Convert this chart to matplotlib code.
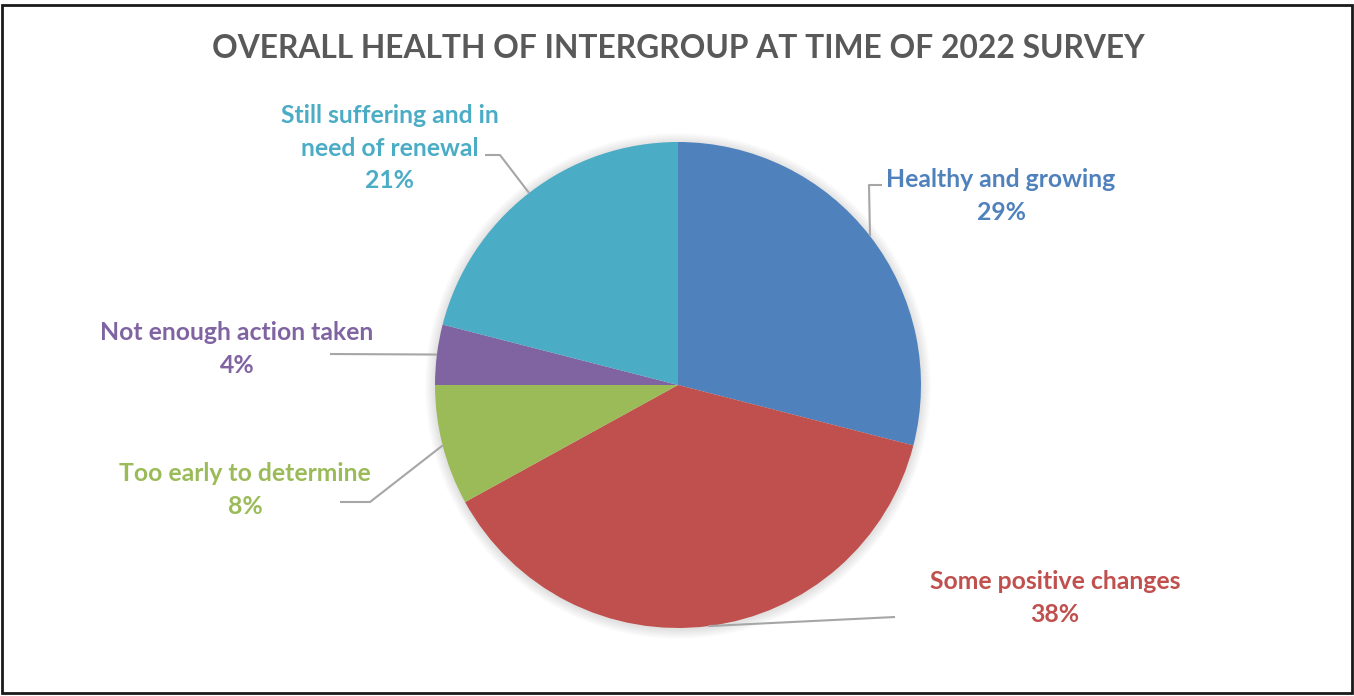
import matplotlib.pyplot as plt
from matplotlib.patches import Circle, Rectangle
import numpy as np

W, H = 1354, 696

categories = ['Healthy and growing', 'Some positive changes', 'Too early to determine',
              'Not enough action taken', 'Still suffering and in\nneed of renewal']
values = [29, 38, 8, 4, 21]
COLORS = ['#4F81BD', '#C0504D', '#9BBB59', '#8064A2', '#4BACC6']

# label layout in pixel coords (x, y of text centre, elbow points of leader)
LABEL_POS = [(1001, 196), (1055, 598), (245, 490), (237, 349), (390, 148)]
ELBOWS = [[(869, 185), (882, 185)],
          [(895, 617)],
          [(370, 502), (340, 502)],
          [(330, 354)],
          [(500, 155), (485, 155)]]

CX, CY, R = 678, 385, 243

plt.rcParams['font.family'] = ['Lato', 'DejaVu Sans']

fig = plt.figure(figsize=(W / 100, H / 100), dpi=100)
ax = fig.add_axes([0, 0, 1, 1])


def py(y):
    return H - y


# soft shadow round the pie
for k in range(10):
    ax.add_patch(Circle((CX, py(CY + 1)), R + 10 - k, color='black', alpha=0.012, lw=0, zorder=0))

wedges, _ = ax.pie(values, colors=COLORS, startangle=90, counterclock=False,
                   center=(CX, py(CY)), radius=R,
                   wedgeprops=dict(linewidth=0))
for w in wedges:
    w.set_zorder(2)

total = sum(values)
cum = 0
for i, v in enumerate(values):
    mid = np.deg2rad(90 - (cum + v / 2) / total * 360)
    cum += v
    ax_x = CX + R * np.cos(mid)
    ax_y = CY - R * np.sin(mid)
    pts = [(ax_x, ax_y)] + ELBOWS[i]
    ax.plot([p[0] for p in pts], [py(p[1]) for p in pts], color='#A6A6A6', lw=1.5,
            solid_capstyle='butt', zorder=3)
    lx, ly = LABEL_POS[i]
    ax.text(lx, py(ly), f'{categories[i]}\n{v}%', ha='center', va='center',
            color=COLORS[i], fontsize=17.8, fontweight='bold', linespacing=1.48, zorder=4)

ax.text(678, py(49), 'OVERALL HEALTH OF INTERGROUP AT TIME OF 2022 SURVEY',
        ha='center', va='center', color='#595959', fontsize=22.9, fontweight='bold')

ax.set_xlim(0, W)
ax.set_ylim(0, H)
ax.set_aspect('auto')
ax.axis('off')

fig.patches.append(Rectangle((2 / W, 3 / H), (W - 4) / W, (H - 8) / H, transform=fig.transFigure,
                             fill=False, edgecolor='#1a1a1a', lw=2))

fig.savefig('out.png', dpi=100)
